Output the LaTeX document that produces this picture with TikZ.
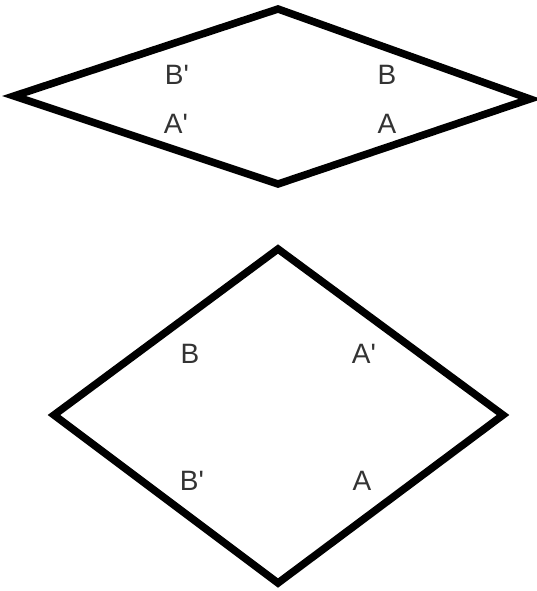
\documentclass[tikz,border=0pt]{standalone}
\usepackage{fontspec}
\setmainfont{Liberation Sans}
\newcommand{\pr}{\textquotesingle}
\begin{document}
\begin{tikzpicture}[x=1pt,y=-1pt,
  edge/.style={line width=7.5pt,line join=miter,black},
  lbl/.style={font=\fontsize{28}{28}\selectfont,text=black!80,inner sep=0pt}]
\useasboundingbox (0,0) rectangle (537,591);
% top rhombus
\coordinate (t1) at (278,9);
\coordinate (t2) at (530,99);
\coordinate (t3) at (278,184);
\coordinate (t4) at (14,96);
\draw[edge] (t1) -- (t2) -- (t3) -- (t4) -- cycle;
\node[lbl] (tb1) at (177,75) {B\pr};
\node[lbl] (tb2) at (387,75) {B};
\node[lbl] (ta1) at (176,124) {A\pr};
\node[lbl] (ta2) at (387,124) {A};
% bottom rhombus
\coordinate (b1) at (278,249);
\coordinate (b2) at (503,415);
\coordinate (b3) at (278,583);
\coordinate (b4) at (54,415);
\draw[edge] (b1) -- (b2) -- (b3) -- (b4) -- cycle;
\node[lbl] (bb1) at (190,354) {B};
\node[lbl] (ba1) at (364,354) {A\pr};
\node[lbl] (bb2) at (192,481) {B\pr};
\node[lbl] (ba2) at (362,481) {A};
\end{tikzpicture}
\end{document}
